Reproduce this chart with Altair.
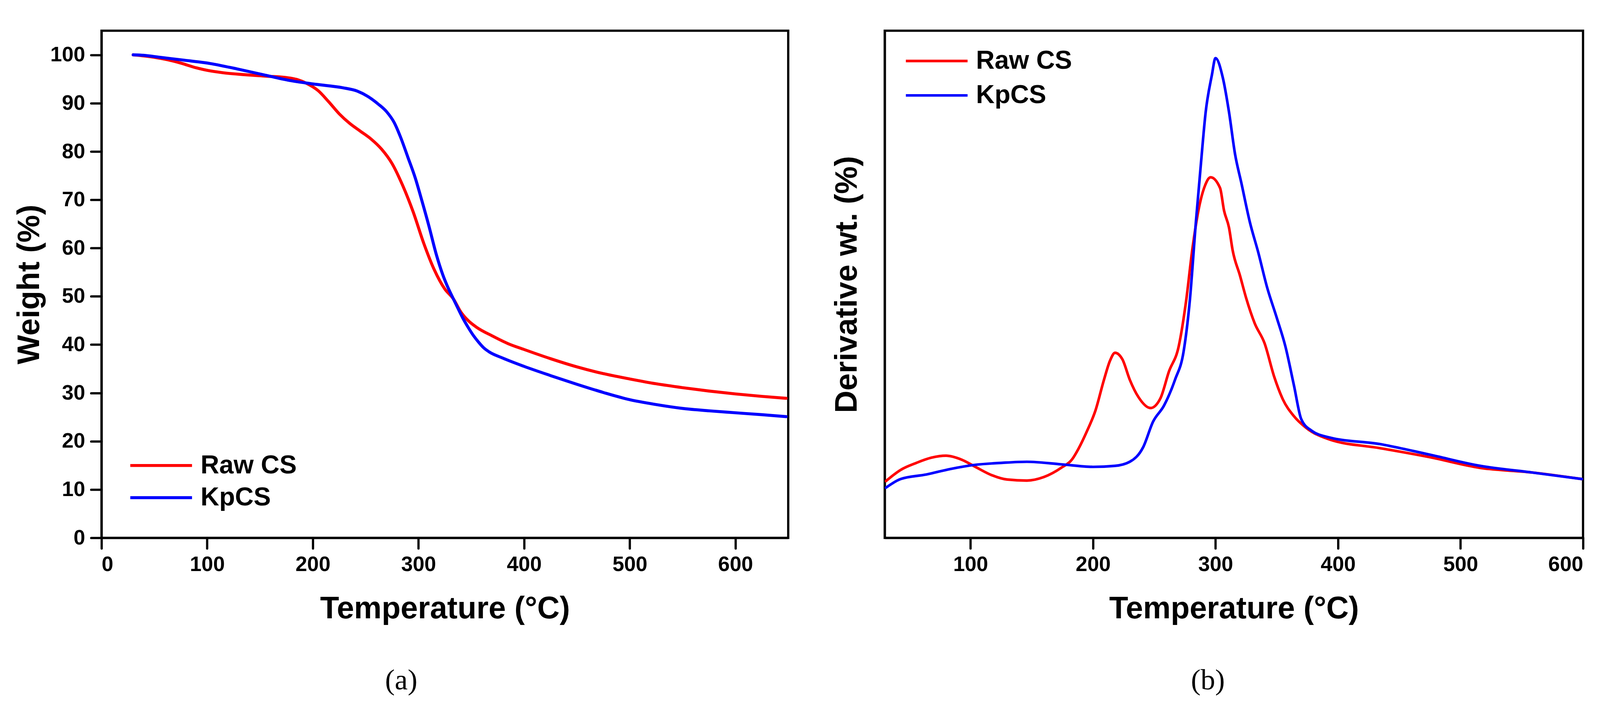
import altair as alt
import pandas as pd

# ---------------- data ----------------
samples = ["Raw CS", "KpCS"]
colors = ["#FF0000", "#0000FF"]

# (a) TGA curves
tga_temp_raw = [30, 50, 60, 75, 90, 100, 115, 135, 155, 175, 185, 195, 205, 215, 225, 235,
                245, 255, 265, 275, 285, 295, 305, 315, 325, 333, 340, 347, 355, 370, 385,
                400, 425, 450, 475, 500, 525, 550, 575, 600, 625, 648]
tga_wt_raw = [100, 99.5, 99.1, 98.3, 97.3, 96.8, 96.3, 95.9, 95.6, 95.3, 94.9, 94.0, 92.6,
              90.3, 87.8, 85.8, 84.2, 82.6, 80.5, 77.5, 73.0, 67.5, 61.0, 55.5, 51.5, 49.5,
              46.8, 45.0, 43.6, 41.8, 40.2, 39.0, 37.1, 35.4, 34.0, 32.9, 31.9, 31.1, 30.4,
              29.8, 29.3, 28.9]
tga_temp_kp = [30, 40, 55, 78, 103, 128, 153, 178, 203, 228, 242, 252, 262, 270, 277, 283,
               290, 297, 303, 310, 317, 323, 327, 333, 337, 342, 347, 352, 357, 362, 367,
               380, 400, 425, 450, 475, 500, 525, 550, 575, 600, 625, 648]
tga_wt_kp = [100, 99.9, 99.5, 98.9, 98.2, 97.1, 95.9, 94.7, 93.9, 93.2, 92.5, 91.4, 89.8,
             88.2, 86.0, 83.0, 78.8, 74.5, 70.0, 64.5, 58.6, 54.5, 52.3, 49.5, 47.7, 45.5,
             43.6, 41.9, 40.5, 39.3, 38.5, 37.2, 35.5, 33.6, 31.8, 30.1, 28.6, 27.6, 26.8,
             26.3, 25.9, 25.5, 25.1]

# (b) DTG curves (arbitrary units, axis unlabeled)
dtg_temp_raw = [31, 43, 56, 68, 80, 93, 104, 117, 130, 146, 160, 174, 183, 188, 195, 202,
                209, 214, 218, 224, 230, 237, 247, 255, 262, 270, 276, 281, 286, 291.5, 296,
                303.7, 307, 311, 314, 320, 325, 332, 340, 348, 355, 364, 374, 393, 434, 475,
                516, 558, 599]
dtg_raw = [11.2, 13.4, 14.8, 15.8, 16.2, 15.4, 14.0, 12.4, 11.5, 11.3, 12.0, 13.8, 15.5,
           17.5, 21.0, 25.1, 31.2, 35.0, 36.5, 35.2, 31.2, 27.8, 25.6, 27.5, 32.8, 37.8,
           46.7, 56.7, 64.5, 69.5, 71.1, 69.0, 64.5, 61.2, 56.7, 51.7, 47.3, 42.3, 38.4,
           31.7, 27.3, 24.0, 21.7, 19.4, 17.7, 15.9, 13.8, 12.9, 11.6]
dtg_temp_kp = [31, 43, 64, 84, 104, 126, 146, 174, 200, 218, 230, 241, 249, 258, 267, 274,
               279, 284, 288, 292, 297, 300, 306, 311, 316, 321, 328, 335, 342, 350, 357,
               364, 370, 378, 393, 434, 475, 516, 558, 599]
dtg_kp = [9.9, 11.6, 12.5, 13.6, 14.4, 14.8, 15.0, 14.5, 14.0, 14.2, 15.0, 17.9, 22.9,
          26.1, 31.2, 36.8, 46.7, 62.3, 73.5, 84.0, 91.2, 94.6, 90.7, 84.0, 75.6, 70.1,
          62.3, 56.2, 49.5, 43.4, 37.8, 30.1, 23.4, 21.2, 19.8, 18.5, 16.4, 14.2, 12.9, 11.6]

df_a = pd.concat([
    pd.DataFrame({"temp": tga_temp_raw, "val": tga_wt_raw, "sample": samples[0], "o": range(len(tga_temp_raw))}),
    pd.DataFrame({"temp": tga_temp_kp, "val": tga_wt_kp, "sample": samples[1], "o": range(len(tga_temp_kp))}),
])
df_b = pd.concat([
    pd.DataFrame({"temp": dtg_temp_raw, "val": dtg_raw, "sample": samples[0], "o": range(len(dtg_temp_raw))}),
    pd.DataFrame({"temp": dtg_temp_kp, "val": dtg_kp, "sample": samples[1], "o": range(len(dtg_temp_kp))}),
])

FONT = "Liberation Sans"
LABEL_FS = 56
TITLE_FS = 83
LEG_FS = 69
H = 1356


def legend(x, y, sw, row_pad):
    return alt.Legend(
        title=None, orient="none", legendX=x, legendY=y,
        symbolType="M-2,0H2", symbolSize=82.5 * 82.5, symbolStrokeWidth=sw,
        symbolOffset=37,
        labelFont=FONT, labelFontSize=LEG_FS, labelFontWeight="bold",
        labelColor="black", labelOffset=60, labelLimit=1000, rowPadding=row_pad, padding=0,
    )


def caption(text):
    return alt.TitleParams(text, orient="bottom", anchor="middle", frame="bounds",
                           font="Liberation Serif", fontSize=78, fontWeight="normal",
                           color="black", baseline="top", offset=111)


x_axis_kw = dict(title="Temperature (°C)", labelPadding=16, titlePadding=50)

panel_a = alt.Chart(df_a).mark_line(
    strokeWidth=8, interpolate="monotone", strokeCap="round", strokeJoin="round"
).encode(
    x=alt.X("temp:Q",
            scale=alt.Scale(domain=[0, 650], nice=False, zero=False),
            axis=alt.Axis(values=list(range(0, 700, 100)), **x_axis_kw)),
    y=alt.Y("val:Q",
            scale=alt.Scale(domain=[0, 105], nice=False),
            axis=alt.Axis(values=list(range(0, 101, 10)), title="Weight (%)",
                          labelPadding=16, titlePadding=13)),
    color=alt.Color("sample:N", scale=alt.Scale(domain=samples, range=colors),
                    sort=samples, legend=legend(77, 1117, 8, 5)),
    order="o:Q",
).properties(width=1836, height=H, title=caption("(a)"))

panel_b = alt.Chart(df_b).mark_line(
    strokeWidth=7, interpolate="monotone", strokeCap="round", strokeJoin="round"
).encode(
    x=alt.X("temp:Q",
            scale=alt.Scale(domain=[30, 600], nice=False, zero=False),
            axis=alt.Axis(values=list(range(100, 700, 100)), **x_axis_kw)),
    y=alt.Y("val:Q",
            scale=alt.Scale(domain=[0, 100], nice=False),
            axis=alt.Axis(title="Derivative wt. (%)", labels=False, ticks=False,
                          titlePadding=59)),
    color=alt.Color("sample:N", scale=alt.Scale(domain=samples, range=colors),
                    sort=samples, legend=legend(57, 36, 7, 12)),
    order="o:Q",
).properties(width=1867, height=H, title=caption("(b)"))

chart = alt.hconcat(panel_a, panel_b, spacing=110).resolve_scale(
    color="independent"
).properties(
    padding={"left": 26, "top": 30, "right": 31, "bottom": 24},
    background="white",
).configure_view(
    stroke="black", strokeWidth=6,
).configure_axis(
    domainColor="black", domainWidth=6,
    tickColor="black", tickWidth=6, tickSize=28, tickCap="round",
    labelFont=FONT, labelFontSize=LABEL_FS, labelFontWeight="bold", labelColor="black",
    titleFont=FONT, titleFontSize=TITLE_FS, titleFontWeight="bold", titleColor="black",
    grid=False,
)

chart.save("out.html", embed_options={"renderer": "svg", "actions": False})
